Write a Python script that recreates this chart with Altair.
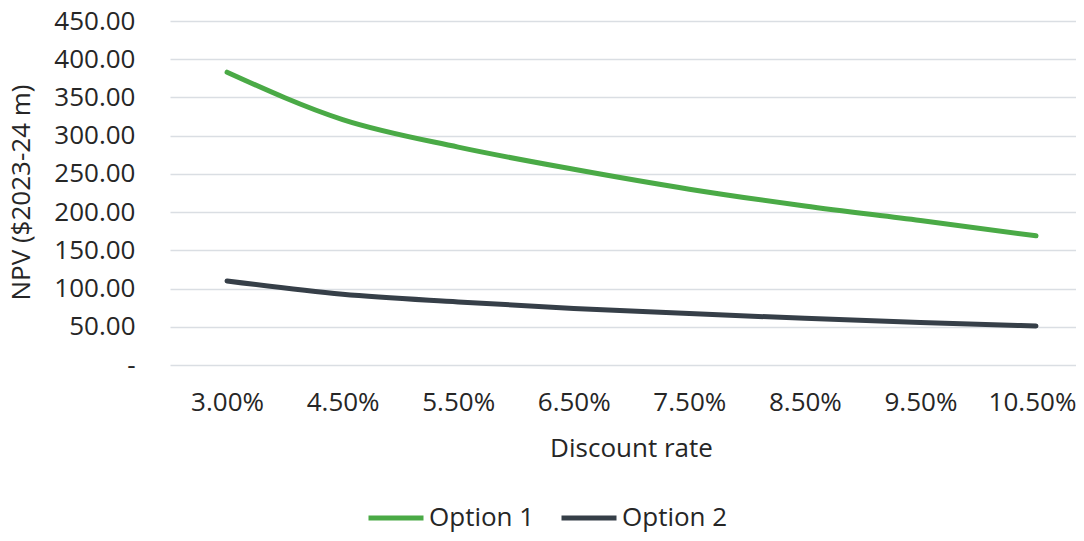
import altair as alt
import pandas as pd

rates = ["3.00%", "4.50%", "5.50%", "6.50%", "7.50%", "8.50%", "9.50%", "10.50%"]
option1 = [383, 321, 285, 256, 230, 208, 189, 169]
option2 = [110, 92.5, 82.5, 74, 67.5, 61, 55.5, 51]
series = ["Option 1", "Option 2"]
colors = ["#4AAA46", "#363F48"]

rows = []
for r, v in zip(rates, option1):
    rows.append({"rate": r, "npv": v, "series": series[0]})
for r, v in zip(rates, option2):
    rows.append({"rate": r, "npv": v, "series": series[1]})
df = pd.DataFrame(rows)

FONT = "Open Sans"
TXT = "#262626"
FS = 26

chart = (
    alt.Chart(df)
    .mark_line(strokeWidth=5, strokeCap="round", strokeJoin="round", interpolate="monotone")
    .encode(
        x=alt.X(
            "rate:N",
            sort=rates,
            scale=alt.Scale(type="point", padding=0.42, align=0.588),
            axis=alt.Axis(
                title="Discount rate",
                domain=False,
                ticks=False,
                grid=False,
                labelAngle=0,
                labelPadding=24,
                labelFontSize=FS,
                labelColor=TXT,
                labelFont=FONT,
                labelOffset={"condition": {"test": "datum.value === '%s'" % rates[-1], "value": -4}, "value": 0},
                titleFont=FONT,
                titleFontSize=FS,
                titleFontWeight="normal",
                titleColor=TXT,
                titleX=461,
                titleY=83,
                titleBaseline="middle",
            ),
        ),
        y=alt.Y(
            "npv:Q",
            scale=alt.Scale(domain=[0, 450], nice=False, zero=True),
            axis=alt.Axis(
                title="NPV ($2023-24 m)",
                values=[0, 50, 100, 150, 200, 250, 300, 350, 400, 450],
                labelExpr="datum.value == 0 ? '-\u00a0\u00a0' : format(datum.value, '.2f')",
                domain=False,
                ticks=False,
                labelPadding=35,
                labelFontSize=FS,
                labelColor=TXT,
                labelFont=FONT,
                gridColor="#DADEE3",
                gridWidth=1.6,
                titleFont=FONT,
                titleFontSize=FS,
                titleFontWeight="normal",
                titleColor=TXT,
                titleAngle=-90,
                titleX=-149,
                titleY=171,
                titleAlign="center",
                titleBaseline="middle",
            ),
        ),
        color=alt.Color(
            "series:N",
            scale=alt.Scale(domain=series, range=colors),
            legend=alt.Legend(
                title=None,
                orient="none",
                direction="horizontal",
                legendX=196,
                legendY=467,
                symbolType="stroke",
                symbolSize=3025,
                symbolStrokeWidth=5,
                labelFontSize=FS,
                labelFont=FONT,
                labelColor=TXT,
                labelOffset=3,
                columnPadding=16,
                padding=0,
            ),
        ),
    )
    .properties(
        width=906,
        height=344,
        autosize=alt.AutoSizeParams(type="none"),
        padding={"left": 162, "top": 13, "right": 0, "bottom": 168},
    )
    .configure(background="white")
    .configure_view(stroke=None)
)

chart.save("out.html", embed_options={"renderer": "svg", "actions": False})
